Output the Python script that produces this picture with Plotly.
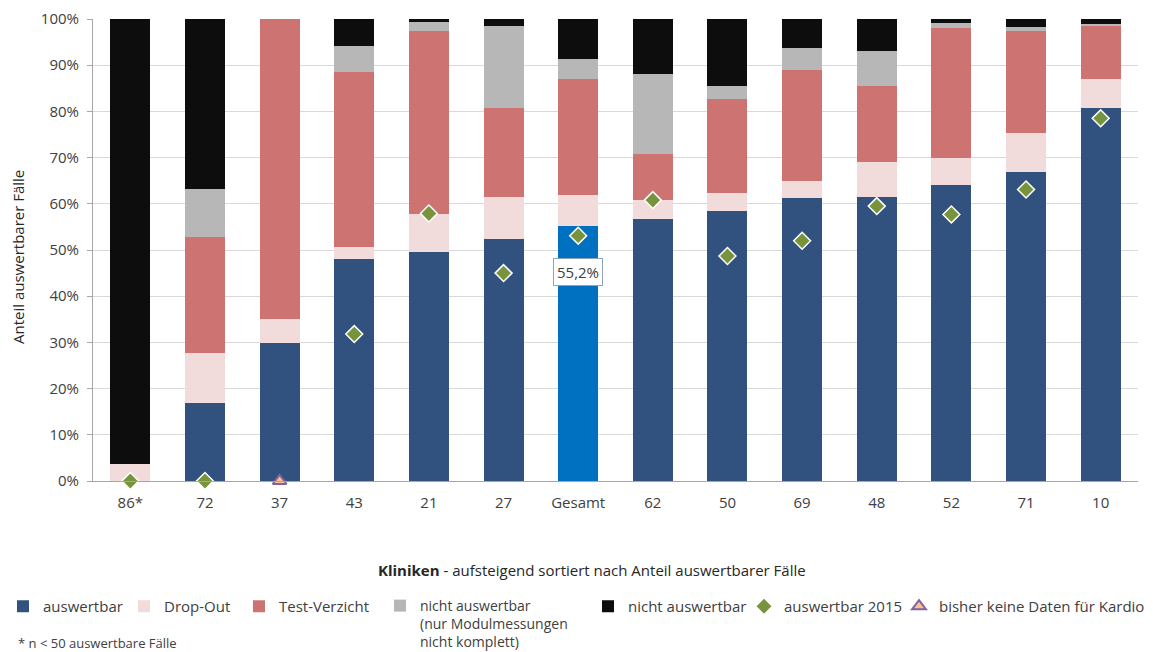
import plotly.graph_objects as go

# Kliniken, sorted by share of evaluable cases
kliniken = ["86*", "72", "37", "43", "21", "27", "Gesamt", "62", "50", "69", "48", "52", "71", "10"]

# Shares in percent per category (stacked bottom to top)
auswertbar = [0.0, 16.8, 29.8, 48.1, 49.6, 52.4, 55.2, 56.7, 58.4, 61.3, 61.5, 64.0, 66.8, 80.7]
drop_out = [3.7, 11.0, 5.3, 2.6, 8.1, 9.1, 6.6, 4.2, 4.0, 3.6, 7.5, 6.0, 8.5, 6.3]
test_verzicht = [0.0, 25.0, 64.9, 37.8, 39.7, 19.2, 25.2, 9.9, 20.3, 24.1, 16.5, 28.1, 22.2, 11.4]
nicht_ausw_modul = [0.0, 10.3, 0.0, 5.7, 2.0, 17.7, 4.4, 17.3, 2.9, 4.8, 7.6, 1.0, 0.8, 0.5]
nicht_ausw = [96.3, 36.9, 0.0, 5.8, 0.6, 1.6, 8.6, 11.9, 14.4, 6.2, 6.9, 0.9, 1.7, 1.1]

# Previous year's evaluable share
auswertbar_2015 = [0.0, 0.0, None, 31.8, 57.9, 45.0, 53.1, 60.8, 48.7, 52.0, 59.5, 57.7, 63.1, 78.5]
# Clinics without cardiology data so far
keine_daten = [None, None, 0.0, None, None, None, None, None, None, None, None, None, None, None]

gesamt_label = "55,2%"

FONT = "Open Sans"
TXT = "#404040"

# plot area geometry (pixels)
W, H = 1153, 652
ML, MR, MT, MB = 93, 15, 19, 171
PW, PH = W - ML - MR, H - MT - MB


def px_x(px):
    return (px - ML) / PW


def px_y(py):
    return (H - MB - py) / PH


blue = "#31527E"
blue_total = "#0070C0"
bar_colors = [blue_total if k == "Gesamt" else blue for k in kliniken]

fig = go.Figure()
fig.add_trace(go.Bar(x=kliniken, y=auswertbar, name="auswertbar", legend="legend",
                     marker=dict(color=bar_colors, line=dict(width=0))))
fig.add_trace(go.Bar(x=kliniken, y=drop_out, name="Drop-Out", legend="legend2",
                     marker=dict(color="#F2DCDB", line=dict(width=0))))
fig.add_trace(go.Bar(x=kliniken, y=test_verzicht, name="Test-Verzicht", legend="legend3",
                     marker=dict(color="#CD7472", line=dict(width=0))))
fig.add_trace(go.Bar(x=kliniken, y=nicht_ausw_modul, legend="legend4",
                     name="nicht auswertbar<br>(nur Modulmessungen<br>nicht komplett)",
                     marker=dict(color="#B7B7B7", line=dict(width=0))))
fig.add_trace(go.Bar(x=kliniken, y=nicht_ausw, name="nicht auswertbar", legend="legend5",
                     marker=dict(color="#0D0D0D", line=dict(width=0))))
fig.add_trace(go.Scatter(x=kliniken, y=auswertbar_2015, name="auswertbar 2015", legend="legend6",
                         mode="markers", cliponaxis=False,
                         marker=dict(symbol="diamond", size=13, color="#77933C",
                                     line=dict(color="white", width=1.5))))
fig.add_trace(go.Scatter(x=kliniken, y=keine_daten, name="bisher keine Daten für Kardio",
                         legend="legend7", mode="markers", cliponaxis=False,
                         marker=dict(symbol="triangle-up", size=12, color="#FAC090",
                                     line=dict(color="#8064A2", width=2))))

# Data label of the overall bar
fig.add_annotation(x="Gesamt", y=auswertbar[kliniken.index("Gesamt")], text=gesamt_label,
                   showarrow=False, yanchor="top", yshift=-32,
                   bgcolor="white", bordercolor="#8EA3BC", borderwidth=1, borderpad=3,
                   font=dict(family=FONT, size=15, color=TXT))

# Y axis title
fig.add_annotation(xref="paper", yref="paper", x=px_x(18), y=px_y(257),
                   xanchor="center", yanchor="middle", textangle=-90,
                   text="Anteil auswertbarer Fälle", showarrow=False,
                   font=dict(family=FONT, size=15, color="#262626"))

# Axis title below the categories
fig.add_annotation(xref="paper", yref="paper", x=px_x(591.5), y=px_y(570), yanchor="middle",
                   text="<b>Kliniken</b> - aufsteigend sortiert nach Anteil auswertbarer Fälle",
                   showarrow=False, font=dict(family=FONT, size=15, color="#262626"))

# Footnote
fig.add_annotation(xref="paper", yref="paper", x=px_x(16), y=px_y(643), xanchor="left",
                   yanchor="middle", text="* n < 50 auswertbare Fälle", showarrow=False,
                   font=dict(family=FONT, size=13, color=TXT))

# One legend per entry so that each can sit at its own position
legend_left = [3, 124, 239, 380, 588, 744, 899]
legend_top = px_y(590)
legends = {}
for i, lx in enumerate(legend_left):
    key = "legend" if i == 0 else f"legend{i + 1}"
    size = 14 if i == 3 else 15
    legends[key] = dict(x=px_x(lx), xanchor="left", y=legend_top, yanchor="top",
                        orientation="v", bgcolor="rgba(0,0,0,0)", borderwidth=0,
                        itemsizing="trace", valign="top",
                        font=dict(family=FONT, size=size, color=TXT))

fig.update_layout(
    width=W, height=H,
    barmode="stack", bargap=0.464,
    paper_bgcolor="white", plot_bgcolor="white",
    margin=dict(l=ML, r=MR, t=MT, b=MB, autoexpand=False),
    font=dict(family=FONT, size=15, color=TXT),
    showlegend=True,
    xaxis=dict(range=[-0.5, len(kliniken) - 0.5], showline=True, linecolor="#A6A6A6",
               linewidth=1, ticks="", ticklabelstandoff=8, automargin=False,
               tickfont=dict(family=FONT, size=15, color=TXT)),
    yaxis=dict(range=[0, 100], dtick=10, ticksuffix="%", showgrid=True,
               gridcolor="#D9D9D9", gridwidth=1, zeroline=False,
               showline=True, linecolor="#A6A6A6", linewidth=1,
               ticks="outside", ticklen=5, tickcolor="#A6A6A6", automargin=False,
               ticklabelstandoff=5,
               tickfont=dict(family=FONT, size=15, color=TXT)),
    **legends,
)

fig.write_html("out.html")
